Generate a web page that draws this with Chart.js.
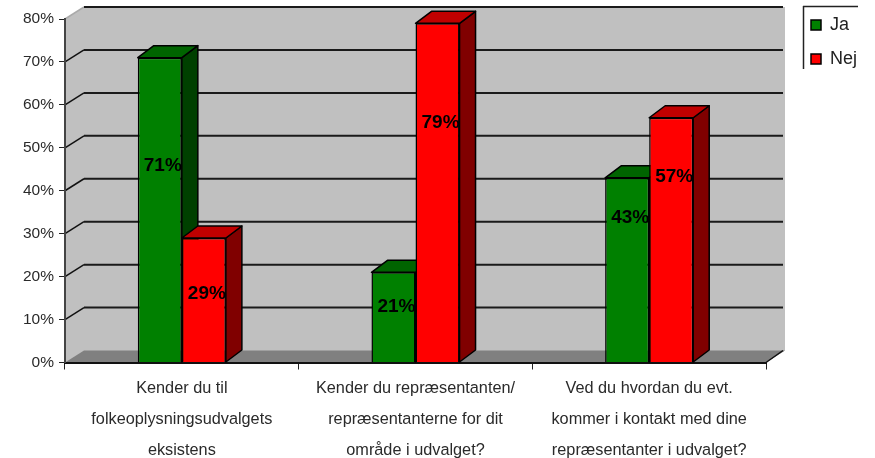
<!DOCTYPE html>
<html>
<head>
<meta charset="utf-8">
<style>
  html, body { margin: 0; background: #fff; }
  canvas { display: block; }
</style>
<script src="https://cdn.jsdelivr.net/npm/chart.js@4"></script>
</head>
<body>
<canvas id="chart" width="875" height="458"></canvas>
<script>
const categories = [
  ['Kender du til', 'folkeoplysningsudvalgets', 'eksistens'],
  ['Kender du repræsentanten/', 'repræsentanterne for dit', 'område i udvalget?'],
  ['Ved du hvordan du evt.', 'kommer i kontakt med dine', 'repræsentanter i udvalget?']
];
const ja = [71, 21, 43];
const nej = [29, 79, 57];

// where the value labels sit, as a share of the bar height (they are hand placed in the original)
const jaLabelHeight = [0.645, 0.615, 0.785];
const nejLabelHeight = [0.55, 0.705, 0.76];

const wallDx = 19, wallDy = 12;
const barDx = 16, barDy = 12;

const faces = [
  { top: '#006400', side: '#004000' },
  { top: '#c00000', side: '#800000' }
];

function poly(ctx, pts, fill, stroke) {
  ctx.beginPath();
  pts.forEach((p, i) => i ? ctx.lineTo(p[0], p[1]) : ctx.moveTo(p[0], p[1]));
  ctx.closePath();
  if (fill) { ctx.fillStyle = fill; ctx.fill(); }
  if (stroke) { ctx.strokeStyle = stroke; ctx.lineWidth = 1.5; ctx.stroke(); }
}

function line(ctx, x1, y1, x2, y2, color, width) {
  ctx.beginPath();
  ctx.moveTo(x1, y1);
  ctx.lineTo(x2, y2);
  ctx.strokeStyle = color;
  ctx.lineWidth = width;
  ctx.stroke();
}

const walls = {
  id: 'walls',
  beforeDraw(chart) {
    const { ctx, chartArea: a, scales: { y } } = chart;
    const bx = a.left + wallDx, rx = a.right + wallDx;
    ctx.save();
    // left and back wall
    poly(ctx, [[a.left, a.top], [bx, a.top - wallDy], [rx, a.top - wallDy], [rx, a.bottom - wallDy], [a.right, a.bottom], [a.left, a.bottom]], '#c0c0c0');
    // floor
    poly(ctx, [[a.left, a.bottom], [bx, a.bottom - wallDy], [rx, a.bottom - wallDy], [a.right, a.bottom]], '#808080');
    line(ctx, a.right, a.bottom, rx - 2, a.bottom - wallDy, '#111', 1.5);
    y.ticks.forEach(t => {
      const py = y.getPixelForValue(t.value);
      if (t.value === 0) return;
      const c = t.value === 80 ? '#aaa' : '#111';
      line(ctx, a.left, py, bx, py - wallDy, c, 1.5);
      line(ctx, bx, py - wallDy, rx - 2, py - wallDy, '#1a1a1a', 2);
    });
    ctx.restore();
  },
  beforeDatasetsDraw(chart) {
    const { ctx } = chart;
    ctx.save();
    ctx.lineJoin = 'round';
    chart.data.datasets.forEach((ds, d) => {
      chart.getDatasetMeta(d).data.forEach(bar => {
        const l = bar.x - bar.width / 2, r = bar.x + bar.width / 2;
        poly(ctx, [[r, bar.y], [r + barDx, bar.y - barDy], [r + barDx, bar.base - barDy], [r, bar.base]], faces[d].side, '#000');
        poly(ctx, [[l, bar.y], [l + barDx, bar.y - barDy], [r + barDx, bar.y - barDy], [r, bar.y]], faces[d].top, '#000');
      });
    });
    ctx.restore();
  },
  afterDatasetsDraw(chart) {
    const { ctx } = chart;
    const shares = [jaLabelHeight, nejLabelHeight];
    ctx.save();
    ctx.font = 'bold 19px "Liberation Sans"';
    ctx.fillStyle = '#000';
    ctx.textAlign = 'center';
    ctx.textBaseline = 'middle';
    chart.data.datasets.forEach((ds, d) => {
      chart.getDatasetMeta(d).data.forEach((bar, i) => {
        const py = bar.base - (bar.base - bar.y) * shares[d][i];
        ctx.fillText(ds.data[i] + '%', bar.x + 3, py);
      });
    });
    ctx.restore();
  },
  afterLayout(chart) {
    const lg = chart.legend;
    const w = lg.width, h = lg.height;
    lg.left = 795; lg.top = 0;
    lg.right = lg.left + w; lg.bottom = lg.top + h;
  },
  afterDraw(chart) {
    const { ctx } = chart;
    ctx.save();
    line(ctx, 803.5, 6, 803.5, 69, '#222', 1.5);
    line(ctx, 803, 6.5, 858, 6.5, '#222', 1.5);
    ctx.restore();
  }
};

new Chart(document.getElementById('chart'), {
  type: 'bar',
  data: {
    labels: categories,
    datasets: [
      { label: 'Ja', data: ja, backgroundColor: '#008000', borderColor: '#000', borderWidth: 1.5 },
      { label: 'Nej', data: nej, backgroundColor: '#ff0000', borderColor: '#000', borderWidth: 1.5 }
    ]
  },
  plugins: [walls],
  options: {
    responsive: false,
    animation: false,
    layout: { padding: { top: 19, right: 109 } },
    datasets: { bar: { categoryPercentage: 0.377, barPercentage: 1 } },
    plugins: {
      tooltip: { enabled: false },
      legend: {
        position: 'chartArea',
        align: 'start',
        labels: {
          boxWidth: 10,
          boxHeight: 10,
          padding: 16,
          color: '#222',
          font: { family: '"Liberation Sans"', size: 18 }
        }
      }
    },
    scales: {
      x: {
        afterFit(scale) { scale.height = 95.5; },
        border: { color: '#111', width: 2 },
        grid: { offset: true, drawOnChartArea: false, color: '#222', tickLength: 7 },
        ticks: {
          maxRotation: 0,
          autoSkip: false,
          padding: 3,
          color: '#2a2a2a',
          font: { family: '"Liberation Sans"', size: 16.3, lineHeight: 1.92 }
        }
      },
      y: {
        min: 0,
        max: 80,
        afterFit(scale) { scale.width = 65; },
        border: { color: '#444', width: 2 },
        grid: { drawOnChartArea: false, color: '#222', tickLength: 6 },
        ticks: {
          stepSize: 10,
          padding: 5,
          color: '#2a2a2a',
          callback: v => v + '%',
          font: { family: '"Liberation Sans"', size: 15.5 }
        }
      }
    }
  }
});
</script>
</body>
</html>
